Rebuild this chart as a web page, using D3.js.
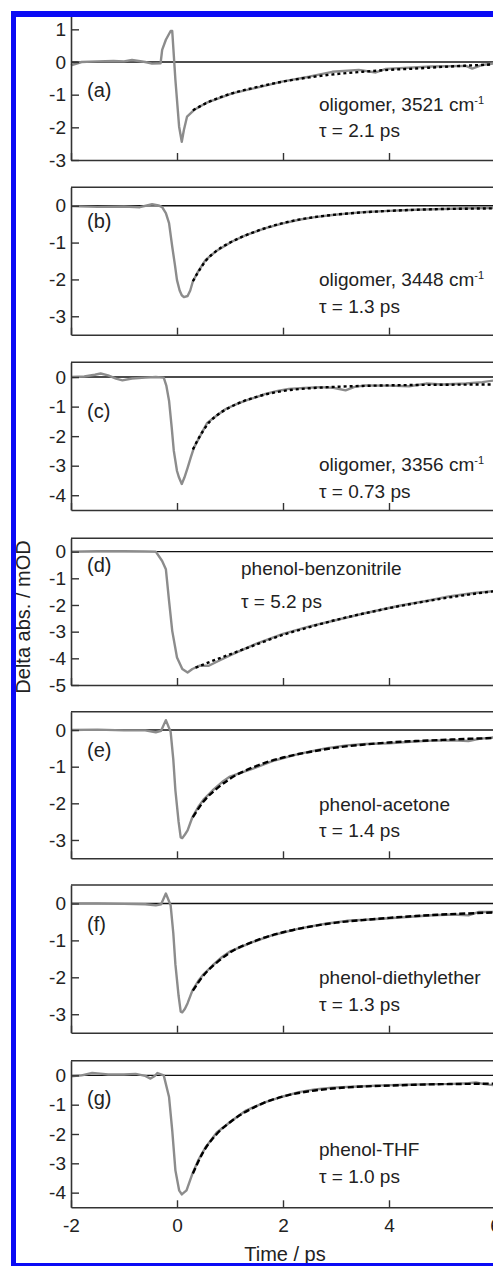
<!DOCTYPE html>
<html><head><meta charset="utf-8">
<script src="https://cdn.jsdelivr.net/npm/d3@7"></script>
<style>
html,body{margin:0;padding:0;background:#fff;overflow:hidden;}
svg{display:block;font-family:"Liberation Sans",Arial,sans-serif;}
</style></head><body>
<svg id="chart" width="493" height="1266"></svg>
<script>
// ---------- data ----------
const tA = [-2,-1.8,-1.5,-1.2,-1.0,-0.85,-0.6,-0.47,-0.31,-0.28,-0.21,-0.12,-0.09,-0.03,0.04,0.09,0.13,0.19,0.32,0.54,1.04,1.55,1.98,2.49,2.93,3.43,3.75,3.94,4.8,5.45,5.57,5.76,6.0];
const vA = [-0.1,0.0,0.02,0.03,0.02,0.06,0.0,-0.05,-0.04,0.37,0.68,0.95,0.95,-0.55,-1.98,-2.44,-2.08,-1.67,-1.47,-1.26,-0.96,-0.77,-0.6,-0.45,-0.3,-0.24,-0.32,-0.21,-0.14,-0.12,-0.2,-0.09,-0.04];
const fitTA = [0.3,0.5,0.75,1,1.5,2,2.5,3,3.5,4,4.5,5,5.5,6];
const fitVA = [-1.48,-1.3,-1.12,-0.98,-0.77,-0.6,-0.47,-0.37,-0.3,-0.24,-0.2,-0.15,-0.11,-0.07];

const tB = [-2,-1.5,-1,-0.7,-0.47,-0.35,-0.28,-0.21,-0.15,-0.09,-0.04,0.0,0.05,0.09,0.13,0.2,0.25,0.3,0.4,0.54,0.75,1.04,1.3,1.67,2.0,2.3,2.6,2.93,3.3,3.56,4.0,4.5,5.0,5.5,6.0];
const vB = [-0.01,-0.03,-0.02,-0.04,0.04,0.01,-0.04,-0.2,-0.47,-1.11,-1.6,-2.02,-2.3,-2.43,-2.48,-2.45,-2.3,-2.05,-1.78,-1.47,-1.22,-0.97,-0.8,-0.61,-0.48,-0.38,-0.31,-0.25,-0.2,-0.17,-0.14,-0.11,-0.09,-0.07,-0.06];
const fitTB = [0.3,0.4,0.54,0.75,1,1.25,1.5,2,2.5,3,3.5,4,4.5,5,5.5,6];
const fitVB = [-2.05,-1.8,-1.5,-1.22,-1.0,-0.83,-0.69,-0.47,-0.33,-0.24,-0.18,-0.14,-0.11,-0.09,-0.08,-0.07];

const tC = [-2,-1.75,-1.55,-1.44,-1.3,-1.15,-1.03,-0.85,-0.6,-0.4,-0.25,-0.2,-0.15,-0.1,-0.06,0,0.04,0.09,0.14,0.2,0.26,0.32,0.45,0.57,0.75,0.92,1.1,1.29,1.5,1.67,1.9,2.11,2.4,2.68,2.95,3.18,3.35,3.56,4.0,4.38,4.7,5.0,5.45,5.76,6.0];
const vC = [0.0,0.02,0.08,0.12,0.06,-0.05,-0.11,-0.05,-0.02,0.0,-0.02,-0.3,-0.8,-1.7,-2.5,-3.18,-3.41,-3.62,-3.4,-3.07,-2.72,-2.39,-1.95,-1.55,-1.3,-1.08,-0.93,-0.8,-0.68,-0.57,-0.47,-0.4,-0.37,-0.34,-0.36,-0.45,-0.33,-0.28,-0.29,-0.31,-0.22,-0.25,-0.22,-0.17,-0.11];
const fitTC = [0.3,0.4,0.5,0.6,0.75,1,1.25,1.5,2,2.5,3,3.5,4,5,6];
const fitVC = [-2.45,-2.1,-1.8,-1.55,-1.3,-1.02,-0.82,-0.67,-0.47,-0.38,-0.33,-0.3,-0.28,-0.26,-0.25];

const tD = [-2,-1.5,-1,-0.6,-0.4,-0.28,-0.21,-0.15,-0.09,0,0.1,0.2,0.29,0.42,0.6,0.79,1.04,1.5,2.0,2.5,2.93,3.5,4.19,4.7,5.13,5.6,6.0];
const vD = [0.0,0.02,0.02,0.01,0.0,-0.35,-0.66,-1.85,-2.97,-3.97,-4.4,-4.53,-4.4,-4.28,-4.28,-4.09,-3.85,-3.45,-3.08,-2.8,-2.6,-2.33,-2.03,-1.85,-1.68,-1.55,-1.48];
const fitTD = [0.35,0.6,1,1.5,2,2.5,3,3.5,4,4.5,5,5.5,6];
const fitVD = [-4.35,-4.15,-3.85,-3.48,-3.12,-2.83,-2.56,-2.33,-2.12,-1.93,-1.76,-1.61,-1.48];

const tE = [-2,-1.5,-1,-0.6,-0.4,-0.3,-0.21,-0.12,-0.07,-0.03,0.03,0.07,0.1,0.15,0.2,0.29,0.4,0.5,0.67,0.85,1.0,1.2,1.42,1.8,2.3,2.8,3.2,3.56,4.0,4.4,4.82,5.2,5.5,5.7,6.0];
const vE = [0.0,0.01,-0.01,-0.01,-0.06,-0.02,0.27,-0.05,-0.8,-1.65,-2.5,-2.93,-2.95,-2.85,-2.74,-2.38,-2.1,-1.9,-1.65,-1.42,-1.27,-1.17,-1.06,-0.85,-0.65,-0.5,-0.42,-0.38,-0.36,-0.32,-0.29,-0.28,-0.3,-0.24,-0.2];
const fitTE = [0.3,0.5,0.75,1,1.5,2,2.5,3,3.5,4,4.5,5,5.5,6];
const fitVE = [-2.38,-1.95,-1.6,-1.33,-0.98,-0.75,-0.6,-0.48,-0.4,-0.34,-0.3,-0.27,-0.24,-0.22];

const tF = tE;
const vF = [0.0,0.0,-0.01,-0.02,-0.05,-0.02,0.27,-0.05,-0.8,-1.65,-2.5,-2.93,-2.95,-2.85,-2.7,-2.36,-2.1,-1.92,-1.68,-1.45,-1.3,-1.18,-1.05,-0.86,-0.68,-0.55,-0.47,-0.44,-0.4,-0.36,-0.32,-0.3,-0.32,-0.23,-0.23];
const fitTF = [0.3,0.5,0.75,1,1.5,2,2.5,3,3.5,4,4.5,5,5.5,6];
const fitVF = [-2.36,-1.95,-1.6,-1.33,-1.0,-0.78,-0.63,-0.52,-0.45,-0.39,-0.34,-0.3,-0.27,-0.24];

const tG = [-2,-1.8,-1.6,-1.45,-1.3,-1.0,-0.78,-0.6,-0.5,-0.42,-0.37,-0.25,-0.15,-0.09,-0.03,0.04,0.09,0.18,0.29,0.4,0.54,0.75,1.04,1.3,1.67,2.0,2.3,2.6,2.93,3.4,3.87,4.3,4.82,5.2,5.5,5.64,5.8,6.0];
const vG = [-0.03,0.0,0.08,0.06,0.03,0.03,0.05,-0.02,-0.11,-0.02,0.08,0.0,-0.74,-1.88,-3.24,-3.92,-4.06,-3.92,-3.36,-2.9,-2.45,-1.95,-1.54,-1.2,-0.91,-0.72,-0.57,-0.48,-0.42,-0.38,-0.34,-0.32,-0.3,-0.29,-0.27,-0.24,-0.3,-0.34];
const fitTG = [0.3,0.5,0.75,1,1.5,2,2.5,3,3.5,4,4.5,5,5.5,6];
const fitVG = [-3.35,-2.6,-2.0,-1.6,-1.05,-0.72,-0.54,-0.44,-0.38,-0.35,-0.32,-0.3,-0.29,-0.28];

const panelLetters = ["(a)","(b)","(c)","(d)","(e)","(f)","(g)"];
const sampleNames = ["oligomer, 3521 cm","oligomer, 3448 cm","oligomer, 3356 cm","phenol-benzonitrile","phenol-acetone","phenol-diethylether","phenol-THF"];
const hasSup = [true,true,true,false,false,false,false];
const tauLabels = ["τ = 2.1 ps","τ = 1.3 ps","τ = 0.73 ps","τ = 5.2 ps","τ = 1.4 ps","τ = 1.3 ps","τ = 1.0 ps"];
const yDomains = [[-3,1.5],[-3.5,0.5],[-4.5,0.5],[-5,0.5],[-3.5,0.5],[-3.5,0.5],[-4.5,0.5]];
const yTicks = [[1,0,-1,-2,-3],[0,-1,-2,-3],[0,-1,-2,-3,-4],[0,-1,-2,-3,-4,-5],[0,-1,-2,-3],[0,-1,-2,-3],[0,-1,-2,-3,-4]];
const xTicks = [-2,0,2,4,6];
const fitDashed = [false,false,false,false,true,true,true];
const seriesT = [tA,tB,tC,tD,tE,tF,tG];
const seriesV = [vA,vB,vC,vD,vE,vF,vG];
const fitT = [fitTA,fitTB,fitTC,fitTD,fitTE,fitTF,fitTG];
const fitV = [fitVA,fitVB,fitVC,fitVD,fitVE,fitVF,fitVG];

// ---------- layout ----------
const panelPix = [[160,13],[334.7,187.3],[510,362.3],[685,538.3],[858.3,711.7],[1032.7,885],[1207.3,1060.7]];
const letterY = [97,228,418,572,757,931,1105];
const line1Y = [111,286,471,575,811,984,1156];
const line2Y = [137,313,498,608,837,1011,1183];
const textX = [319,319,319,241,319,319,319];

const svg = d3.select("#chart");
const x = d3.scaleLinear().domain([-2,6]).range([71,495]);
const FS = 19;
const fmt = d => String(d);   // plain hyphen-minus as in the figure

seriesT.forEach((ts,i)=>{
  const [yb,yt] = panelPix[i];
  const y = d3.scaleLinear().domain(yDomains[i]).range([yb,yt]);
  const g = svg.append("g");

  // zero line
  g.append("line").attr("x1",x(-2)).attr("x2",x(6.2)).attr("y1",y(0)).attr("y2",y(0))
    .attr("stroke","#111").attr("stroke-width",1.4);

  // data trace
  const pts = ts.map((t,k)=>[t,seriesV[i][k]]);
  g.append("path").datum(pts)
    .attr("d",d3.line().x(d=>x(d[0])).y(d=>y(d[1])))
    .attr("fill","none").attr("stroke","#8c8c8c").attr("stroke-width",2.4).attr("stroke-linejoin","round");

  // fit
  const fp = fitT[i].map((t,k)=>[t,fitV[i][k]]);
  g.append("path").datum(fp)
    .attr("d",d3.line().curve(d3.curveMonotoneX).x(d=>x(d[0])).y(d=>y(d[1])))
    .attr("fill","none").attr("stroke","#000").attr("stroke-width",2.4)
    .attr("stroke-dasharray",fitDashed[i]?"6,3":"3,3");

  // frame top
  g.append("line").attr("x1",x(-2)).attr("x2",x(6.2)).attr("y1",yt).attr("y2",yt)
    .attr("stroke","#333").attr("stroke-width",1.6);

  // axes
  const ya = d3.axisLeft(y).tickValues(yTicks[i]).tickFormat(fmt)
    .tickSizeInner(-8).tickSizeOuter(0).tickPadding(5);
  const yg = g.append("g").attr("transform",`translate(${x(-2)},0)`).call(ya);
  const xa = d3.axisBottom(x).tickValues(xTicks).tickFormat(fmt)
    .tickSizeInner(-7).tickSizeOuter(0).tickPadding(11);
  const xg = g.append("g").attr("transform",`translate(0,${yb})`).call(xa);
  if (i < 6) xg.selectAll("text").remove();
  [yg,xg].forEach(a=>{
    a.select(".domain").attr("stroke","#333").attr("stroke-width",1.6);
    a.selectAll(".tick line").attr("stroke","#333").attr("stroke-width",1.4);
    a.selectAll("text").attr("font-size",FS).attr("fill","#222").attr("font-family","Liberation Sans, Arial, sans-serif");
  });

  // annotations
  g.append("text").attr("x",87).attr("y",letterY[i]).attr("font-size",FS+1).attr("fill","#222").text(panelLetters[i]);
  const t1 = g.append("text").attr("x",textX[i]).attr("y",line1Y[i]).attr("font-size",FS).attr("fill","#222");
  t1.append("tspan").text(sampleNames[i]);
  if (hasSup[i]) t1.append("tspan").attr("dy",-7).attr("font-size",11).text("-1");
  g.append("text").attr("x",textX[i]).attr("y",line2Y[i]).attr("font-size",FS).attr("fill","#222").text(tauLabels[i]);
});

// axis titles
svg.append("text").attr("transform","translate(30,617) rotate(-90)").attr("text-anchor","middle")
  .attr("font-size",20).attr("fill","#222").text("Delta abs. / mOD");
svg.append("text").attr("x",285).attr("y",1261).attr("text-anchor","middle")
  .attr("font-size",20).attr("fill","#222").text("Time / ps");

// blue border
svg.append("rect").attr("x",11).attr("y",11).attr("width",482).attr("height",6).attr("fill","#0a0af5");
svg.append("rect").attr("x",11).attr("y",11).attr("width",5).attr("height",1255).attr("fill","#0a0af5");
svg.append("rect").attr("x",11).attr("y",1263).attr("width",482).attr("height",3).attr("fill","#0a0af5");
</script>
</body></html>
